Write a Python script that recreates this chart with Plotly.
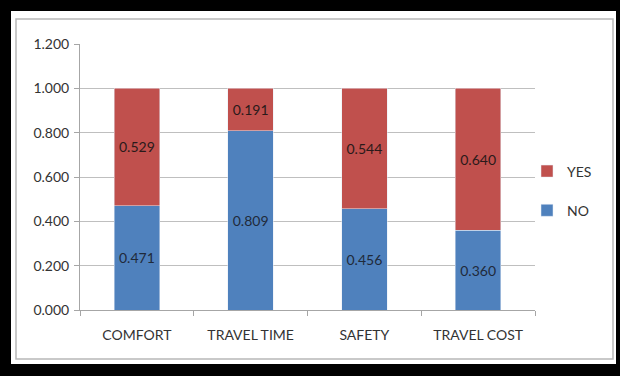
import plotly.graph_objects as go

categories = ["COMFORT", "TRAVEL TIME", "SAFETY", "TRAVEL COST"]
no_values = [0.471, 0.809, 0.456, 0.360]
yes_values = [0.529, 0.191, 0.544, 0.640]
y_ticks = [0.0, 0.2, 0.4, 0.6, 0.8, 1.0, 1.2]

BLUE = "#4F81BD"
RED = "#C0504D"
FONT = "Lato, 'Liberation Sans', sans-serif"

W, H = 620, 376
L, R, T, B = 80, 85, 44, 66
PW, PH = W - L - R, H - T - B


def px_x(x):
    return (x - L) / PW


def px_y(y):
    return (H - B - y) / PH


fig = go.Figure()
fig.add_trace(go.Bar(
    x=categories, y=no_values, name="NO", marker_color=BLUE,
    text=[f"{v:.3f}" for v in no_values], textposition="inside",
    insidetextanchor="middle", textangle=0,
    textfont=dict(family=FONT, size=14, color="#1f2a3a"),
    legendgroup="no", legendrank=2,
))
fig.add_trace(go.Bar(
    x=categories, y=yes_values, name="YES", marker_color=RED,
    text=[f"{v:.3f}" for v in yes_values], textposition="inside",
    insidetextanchor="middle", textangle=0,
    textfont=dict(family=FONT, size=14, color="#2a1a1a"),
    legendgroup="yes", legendrank=1,
))

# black outer frame, white card and thin grey border
fig.add_shape(type="rect", xref="paper", yref="paper",
              x0=px_x(11), x1=px_x(616), y0=px_y(364), y1=px_y(11),
              fillcolor="white", line_width=0, layer="below")
fig.add_shape(type="rect", xref="paper", yref="paper",
              x0=px_x(16), x1=px_x(613), y0=px_y(359), y1=px_y(19),
              fillcolor="rgba(0,0,0,0)", line=dict(color="#b8b8b8", width=1.5),
              layer="below")

fig.update_layout(
    width=W, height=H,
    margin=dict(l=L, r=R, t=T, b=B),
    paper_bgcolor="black", plot_bgcolor="white",
    barmode="stack", bargap=0.6,
    font=dict(family=FONT, size=14, color="#333333"),
    legend=dict(
        x=px_x(527), y=px_y(191), xanchor="left", yanchor="middle",
        traceorder="grouped", tracegroupgap=18,
        bgcolor="rgba(0,0,0,0)",
        font=dict(family=FONT, size=14, color="#333333"),
        itemwidth=30,
    ),
    showlegend=True,
)
fig.update_yaxes(
    range=[0, 1.2], tickvals=y_ticks, tickformat=".3f",
    showgrid=True, gridcolor="#bfbfbf", gridwidth=1,
    showline=True, linecolor="#a6a6a6", linewidth=1,
    ticks="outside", ticklen=5, tickcolor="#a6a6a6",
    zeroline=False, tickfont=dict(size=14, color="#333333"),
    ticklabelstandoff=2,
)
fig.update_xaxes(
    showline=True, linecolor="#a6a6a6", linewidth=1,
    ticks="outside", ticklen=5, tickcolor="#a6a6a6",
    tickson="boundaries", showgrid=False,
    tickfont=dict(size=14, color="#333333"),
    ticklabelstandoff=12,
)

fig.write_html("out.html")
